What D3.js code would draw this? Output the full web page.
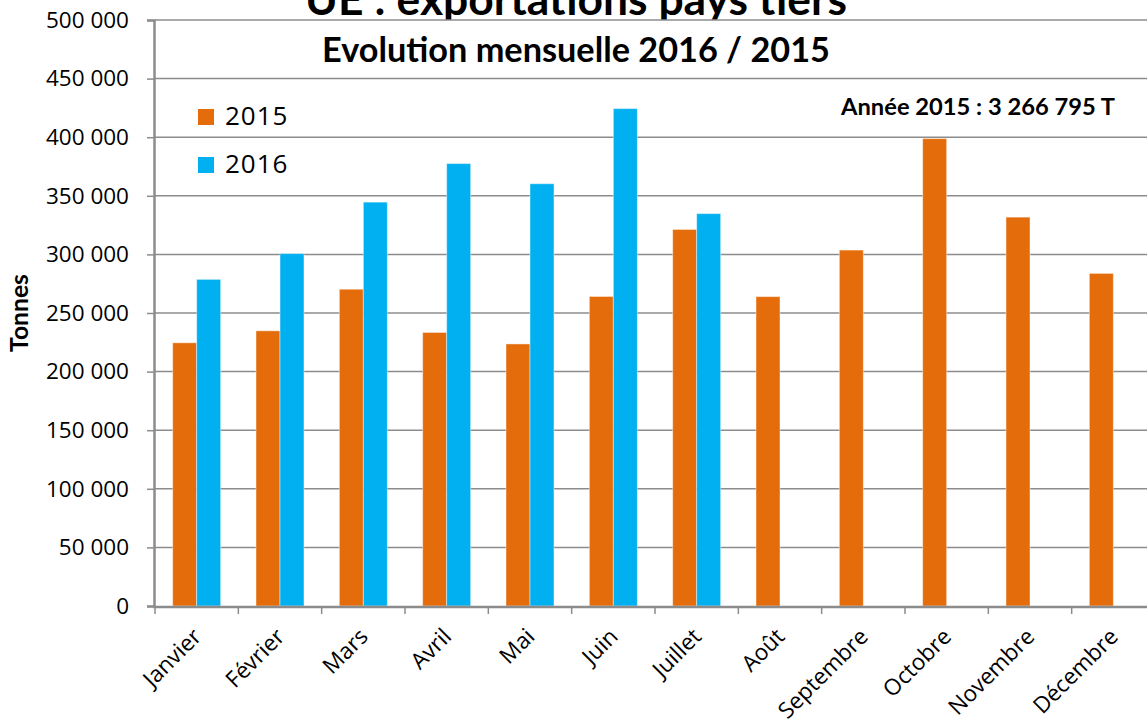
<!DOCTYPE html>
<html lang="fr">
<head>
    <meta charset="UTF-8">
    <title>UE : exportations pays tiers</title>
    <script src="https://cdn.jsdelivr.net/npm/d3@7"></script>
    <style>
        body { margin: 0; background: #fff; }
        svg { display: block; }
    </style>
</head>
<body>
<script type="text/javascript">
    // données (tonnes)
    var months = ["Janvier", "Février", "Mars", "Avril", "Mai", "Juin", "Juillet",
        "Août", "Septembre", "Octobre", "Novembre", "Décembre"];
    var series = ["2015", "2016"];
    var v2015 = [224600, 234800, 270300, 233400, 223600, 264100, 321300,
        264000, 303700, 398800, 331800, 283800];
    var v2016 = [278700, 300700, 344600, 377500, 360300, 424400, 334800,
        null, null, null, null, null];
    var yTicks = [0, 50000, 100000, 150000, 200000, 250000, 300000, 350000, 400000, 450000, 500000];
    var colors = ["#E46C0A", "#00B0F0"];

    var width = 1147;
    var height = 724;
    var pLeft = 155, pRight = 1155, pTop = 20, pBottom = 606;

    var svg = d3.select('body').append('svg')
            .attr('width', width)
            .attr('height', height);

    function fitWidth(t, w) {
        var len = t.node().getComputedTextLength();
        var fs = parseFloat(t.attr('font-size'));
        t.attr('font-size', (fs * w / len).toFixed(2));
    }

    var fr = d3.formatLocale({decimal: ",", thousands: " ", grouping: [3], currency: ["", " €"]});
    var fmt = fr.format(",d");

    var x = d3.scaleBand().domain(months).range([pLeft, pRight]);
    var x1 = d3.scaleBand().domain(series).range([0, 48]);
    var y = d3.scaleLinear().domain([0, 500000]).range([pBottom, pTop]);

    // titre (le bas est masqué par la zone de tracé)
    var title = svg.append('text')
            .attr('x', 576)
            .attr('y', 15)
            .attr('text-anchor', 'middle')
            .attr('font-family', 'Lato, sans-serif')
            .attr('font-weight', 'bold')
            .attr('font-size', 34)
            .text('UE : exportations pays tiers');
    fitWidth(title, 542);

    svg.append('rect')
            .attr('x', pLeft)
            .attr('y', pTop)
            .attr('width', pRight - pLeft)
            .attr('height', pBottom - pTop)
            .attr('fill', '#fff');

    // grille
    svg.append('g')
            .selectAll('line')
            .data(yTicks.filter(function (d) { return d > 0; }))
            .enter()
            .append('line')
            .attr('x1', pLeft)
            .attr('x2', pRight)
            .attr('y1', function (d) { return y(d); })
            .attr('y2', function (d) { return y(d); })
            .attr('stroke', '#8c8c8c')
            .attr('stroke-width', 1.5);

    // barres
    var rows = months.map(function (m, i) {
        return {month: m, values: [v2015[i], v2016[i]]};
    });
    var groups = svg.append('g')
            .selectAll('g')
            .data(rows)
            .enter()
            .append('g')
            .attr('transform', function (d) {
                return 'translate(' + (x(d.month) + (x.bandwidth() - 48) / 2) + ',0)';
            });
    groups.selectAll('rect')
            .data(function (d) {
                return d.values.map(function (v, i) { return {key: series[i], value: v, i: i}; })
                        .filter(function (e) { return e.value != null; });
            })
            .enter()
            .append('rect')
            .attr('x', function (d) { return x1(d.key); })
            .attr('width', x1.bandwidth())
            .attr('y', function (d) { return y(d.value); })
            .attr('height', function (d) { return y(0) - y(d.value); })
            .attr('fill', function (d) { return colors[d.i]; })
            .attr('stroke', 'rgba(255,255,255,0.45)')
            .attr('stroke-width', 1);

    // axe Y
    var yAxis = svg.append('g')
            .attr('transform', 'translate(' + (pLeft - 1) + ',0)')
            .call(d3.axisLeft(y).tickValues(yTicks).tickFormat(fmt).tickSize(7).tickPadding(18));
    yAxis.select('.domain').attr('stroke', '#8c8c8c').attr('stroke-width', 2.5);
    yAxis.selectAll('.tick line').attr('stroke', '#8c8c8c').attr('stroke-width', 1.5);
    yAxis.selectAll('text')
            .attr('font-family', '"Open Sans", sans-serif')
            .attr('font-size', 22.5)
            .attr('fill', '#000');

    // axe X
    var xg = svg.append('g');
    xg.append('line')
            .attr('x1', pLeft - 2)
            .attr('x2', pRight)
            .attr('y1', pBottom + 1)
            .attr('y2', pBottom + 1)
            .attr('stroke', '#8c8c8c')
            .attr('stroke-width', 2.5);
    xg.selectAll('line.tk')
            .data(months.concat(['__end']))
            .enter()
            .append('line')
            .attr('class', 'tk')
            .attr('x1', function (d) { return d === '__end' ? pRight : x(d); })
            .attr('x2', function (d) { return d === '__end' ? pRight : x(d); })
            .attr('y1', pBottom)
            .attr('y2', pBottom + 8)
            .attr('stroke', '#8c8c8c')
            .attr('stroke-width', 1.5);
    xg.selectAll('text')
            .data(months)
            .enter()
            .append('text')
            .attr('transform', function (d) {
                return 'translate(' + (x(d) + x.bandwidth() / 2 + 6) + ',' + (pBottom + 32) + ') rotate(-45)';
            })
            .attr('text-anchor', 'end')
            .attr('font-family', '"Open Sans", sans-serif')
            .attr('font-size', 22.5)
            .text(function (d) { return d; });

    // titre de l'axe Y
    var ylab = svg.append('text')
            .attr('transform', 'translate(28,313) rotate(-90)')
            .attr('text-anchor', 'middle')
            .attr('font-family', 'Lato, sans-serif')
            .attr('font-weight', 'bold')
            .attr('font-size', 20)
            .text('Tonnes');
    fitWidth(ylab, 78);

    // sous-titre
    var sub = svg.append('text')
            .attr('x', 576)
            .attr('y', 62)
            .attr('text-anchor', 'middle')
            .attr('font-family', 'Lato, sans-serif')
            .attr('font-weight', 'bold')
            .attr('font-size', 29)
            .text('Evolution mensuelle 2016 / 2015');
    fitWidth(sub, 508);

    // annotation
    var note = svg.append('text')
            .attr('x', 978)
            .attr('y', 115)
            .attr('text-anchor', 'middle')
            .attr('font-family', 'Lato, sans-serif')
            .attr('font-weight', 'bold')
            .attr('font-size', 19)
            .text('Année 2015 : 3 266 795 T');
    fitWidth(note, 274);

    // légende
    var legend = svg.append('g')
            .selectAll('g')
            .data(series)
            .enter()
            .append('g')
            .attr('transform', function (d, i) {
                return 'translate(198,' + (109 + i * 48) + ')';
            });
    legend.append('rect')
            .attr('width', 16)
            .attr('height', 16)
            .attr('fill', function (d, i) { return colors[i]; });
    legend.append('text')
            .attr('x', 27)
            .attr('y', 16)
            .attr('font-family', '"Open Sans", sans-serif')
            .attr('font-size', 26)
            .attr('letter-spacing', 1)
            .text(function (d) { return d; });
</script>
</body>
</html>
